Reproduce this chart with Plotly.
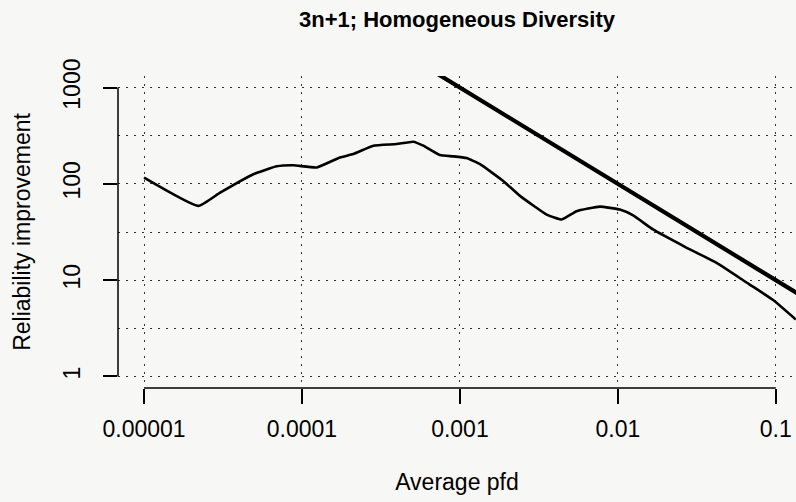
import plotly.graph_objects as go

# ---- data ----
pfd = [1.0e-5, 2.21e-5, 3.03e-5, 4.92e-5, 6.92e-5, 8.81e-5, 1.24e-4, 1.74e-4,
       2.11e-4, 2.83e-4, 3.97e-4, 5.06e-4, 5.86e-4, 7.46e-4, 9.08e-4, 1.10e-3,
       1.34e-3, 1.88e-3, 2.40e-3, 3.54e-3, 4.41e-3, 5.48e-3, 7.69e-3, 1.03e-2,
       1.25e-2, 1.67e-2, 2.66e-2, 4.22e-2, 6.76e-2, 9.62e-2, 0.134]
improvement = [116, 59, 81, 126, 152, 156, 148, 188,
               204, 249, 259, 274, 249, 199, 193, 185,
               160, 107, 75, 48, 42.7, 52, 58, 54,
               47, 33.6, 22.2, 15.1, 9.1, 6.22, 3.9]

bound_pfd = [0.0005, 0.2]
bound_improvement = [2000, 5]

x_tickvals = [1e-5, 1e-4, 1e-3, 1e-2, 1e-1]
x_ticktext = ["0.00001", "0.0001", "0.001", "0.01", "0.1"]
y_tickvals = [1, 10, 100, 1000]
y_ticktext = ["1", "10", "100", "1000"]
y_halfgrid = [3.1623, 31.623, 316.23]

FONT = "Liberation Sans, Arial, Helvetica, sans-serif"
BG = "#f7f7f5"
GRID = dict(gridcolor="#333333", gridwidth=1.3, griddash="2px,6px")

fig = go.Figure()
fig.add_trace(go.Scatter(x=pfd, y=improvement, mode="lines",
                         line=dict(color="black", width=2.6, shape="spline", smoothing=0.4),
                         showlegend=False))
fig.add_trace(go.Scatter(x=bound_pfd, y=bound_improvement, mode="lines",
                         line=dict(color="black", width=4.2),
                         showlegend=False))

fig.update_layout(
    width=796, height=502,
    margin=dict(l=118, r=0, t=76, b=114),
    paper_bgcolor=BG, plot_bgcolor=BG,
    font=dict(family=FONT, size=23, color="black"),
    title=dict(text="<b>3n+1; Homogeneous Diversity</b>", x=0.5, xref="paper",
               xanchor="center", y=0.962, yanchor="middle",
               font=dict(size=22, family=FONT)),
    xaxis=dict(type="log", range=[-5.165, -0.872], tickmode="array",
               tickvals=x_tickvals, ticktext=x_ticktext,
               ticks="outside", ticklen=15, tickwidth=1.5, tickcolor="black",
               ticklabelstandoff=5,
               showline=False, zeroline=False, showgrid=True, **GRID,
               title=dict(text="Average pfd", standoff=33, font=dict(size=23))),
    yaxis=dict(type="log", range=[-0.12, 3.12], tickmode="array",
               tickvals=y_tickvals, ticktext=y_ticktext, tickangle=-90,
               ticks="outside", ticklen=14, tickwidth=1.5, tickcolor="black",
               ticklabelstandoff=14,
               showline=False, zeroline=False, showgrid=True, **GRID,
               minor=dict(tickmode="array", tickvals=y_halfgrid, ticklen=0,
                          showgrid=True, **GRID),
               title=dict(text="Reliability improvement", standoff=21, font=dict(size=23))),
)

# R-style detached axis lines spanning first to last tick
fig.add_shape(type="line", xref="paper", yref="y", x0=0, x1=0,
              y0=y_tickvals[0], y1=y_tickvals[-1], line=dict(color="black", width=1.5))
fig.add_shape(type="line", xref="x", yref="paper", x0=x_tickvals[0], x1=x_tickvals[-1],
              y0=0, y1=0, line=dict(color="black", width=1.5))

fig.write_html("out.html")
